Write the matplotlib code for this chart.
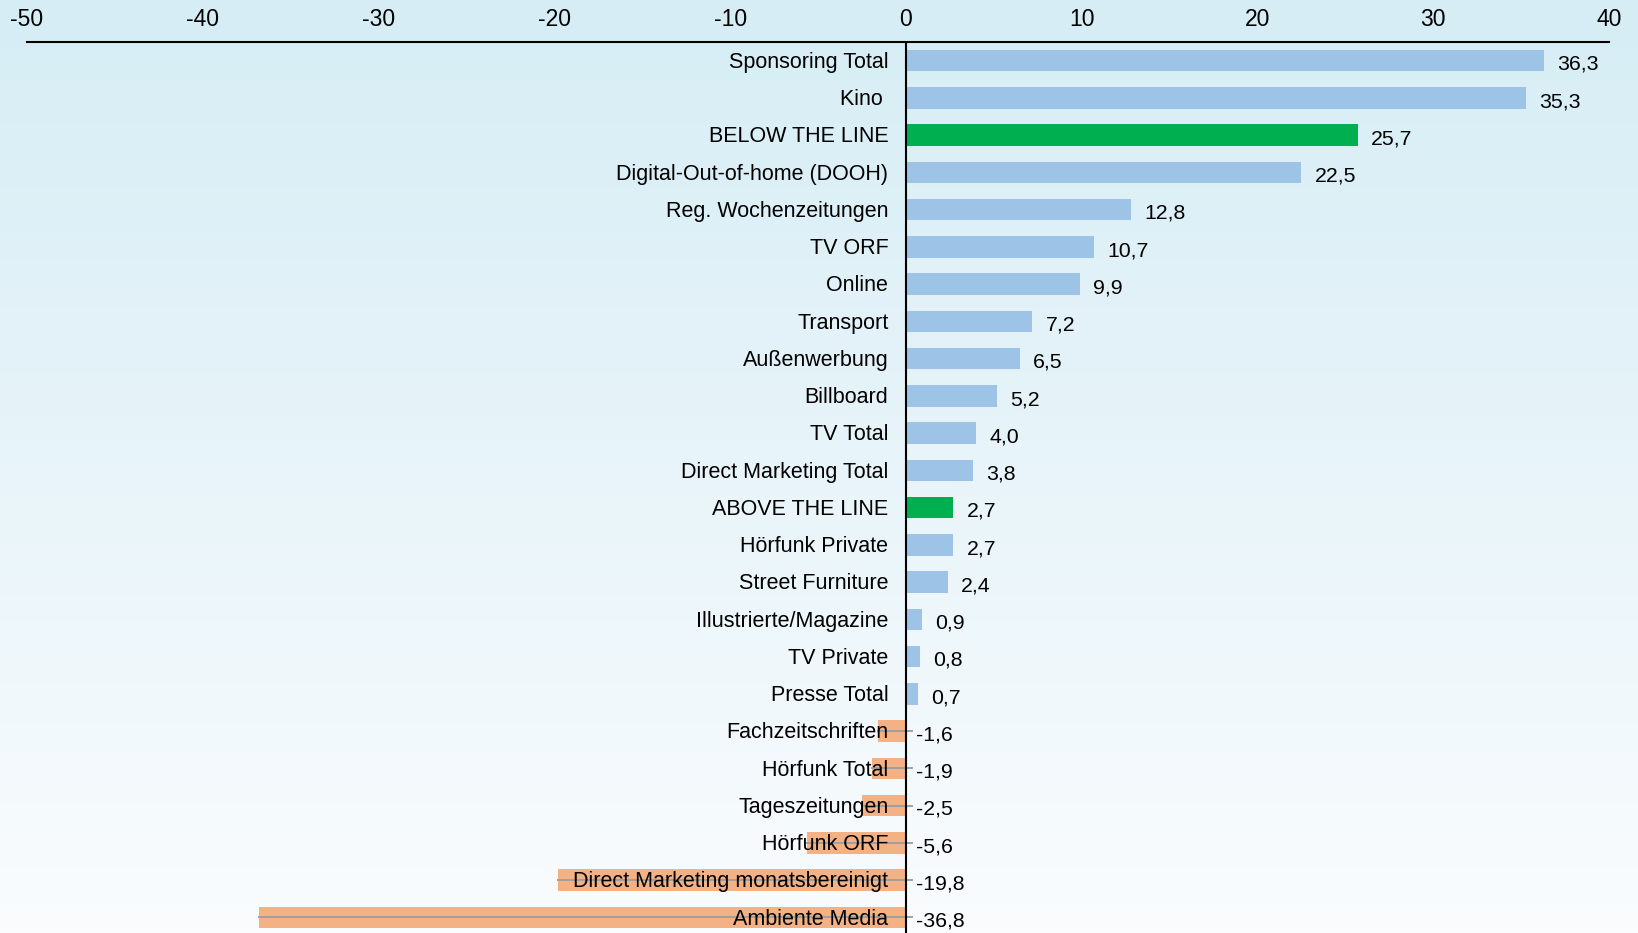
import numpy as np
import matplotlib.pyplot as plt

plt.rcParams['font.family'] = ['Liberation Sans', 'DejaVu Sans']

categories = [
    'Sponsoring Total', 'Kino ', 'BELOW THE LINE', 'Digital-Out-of-home (DOOH)',
    'Reg. Wochenzeitungen', 'TV ORF', 'Online', 'Transport', 'Außenwerbung',
    'Billboard', 'TV Total', 'Direct Marketing Total', 'ABOVE THE LINE',
    'Hörfunk Private', 'Street Furniture', 'Illustrierte/Magazine', 'TV Private',
    'Presse Total', 'Fachzeitschriften', 'Hörfunk Total', 'Tageszeitungen',
    'Hörfunk ORF', 'Direct Marketing monatsbereinigt', 'Ambiente Media',
]
values = [36.3, 35.3, 25.7, 22.5, 12.8, 10.7, 9.9, 7.2, 6.5, 5.2, 4.0, 3.8, 2.7,
          2.7, 2.4, 0.9, 0.8, 0.7, -1.6, -1.9, -2.5, -5.6, -19.8, -36.8]
highlight = ['BELOW THE LINE', 'ABOVE THE LINE']
xticks = [-50, -40, -30, -20, -10, 0, 10, 20, 30, 40]

BLUE = '#9DC3E6'
GREEN = '#00B050'
ORANGE = '#F4B183'

W, H = 1638, 933
fig = plt.figure(figsize=(W / 100, H / 100), dpi=100)

# background gradient (light blue at top to nearly white at bottom)
bg = fig.add_axes([0, 0, 1, 1], zorder=-10)
top = np.array([214, 237, 245]) / 255
bot = np.array([250, 252, 254]) / 255
t = np.linspace(0, 1, 256)[:, None]
grad = (top[None, :] * (1 - t) + bot[None, :] * t)[:, None, :]
bg.imshow(grad, aspect='auto', extent=[0, 1, 0, 1])
bg.axis('off')

# axes placement in pixels
x_left, x_right = 27, 1609
y_top, y_bot = 42, 936
ax = fig.add_axes([x_left / W, 1 - y_bot / H, (x_right - x_left) / W, (y_bot - y_top) / H])
ax.patch.set_alpha(0)

y = np.arange(len(categories))
colors = []
for c, v in zip(categories, values):
    if c in highlight:
        colors.append(GREEN)
    elif v < 0:
        colors.append(ORANGE)
    else:
        colors.append(BLUE)

ax.barh(y, values, height=0.58, color=colors, zorder=2)

# grey leader lines across negative bars
for yi, v in zip(y, values):
    if v < 0:
        ax.plot([v, 0.35], [yi, yi], color='#A0A0A0', lw=1.4, zorder=3)

# category labels right-aligned left of zero
for yi, c in zip(y, categories):
    ax.text(-1.0, yi + 0.05, c, ha='right', va='center', fontsize=15.5, color='black', zorder=4)

# value labels
for yi, v in zip(y, values):
    x = v + 0.75 if v > 0 else 0.55
    ax.text(x, yi + 0.1, f'{v:.1f}'.replace('.', ','), ha='left', va='center',
            fontsize=15.3, color='black', zorder=4)

ax.set_xlim(-50, 40)
ax.set_ylim(23.5, -0.5)
ax.axvline(0, color='black', lw=1.5, zorder=3)

ax.xaxis.tick_top()
ax.set_xticks(xticks)
ax.set_xticklabels([str(v) for v in xticks], fontsize=16.5)
ax.tick_params(axis='x', length=0, pad=8)
ax.set_yticks([])
for s in ['left', 'right', 'bottom']:
    ax.spines[s].set_visible(False)
ax.spines['top'].set_linewidth(1.5)
ax.spines['top'].set_color('black')

fig.savefig('out.png', dpi=100)
